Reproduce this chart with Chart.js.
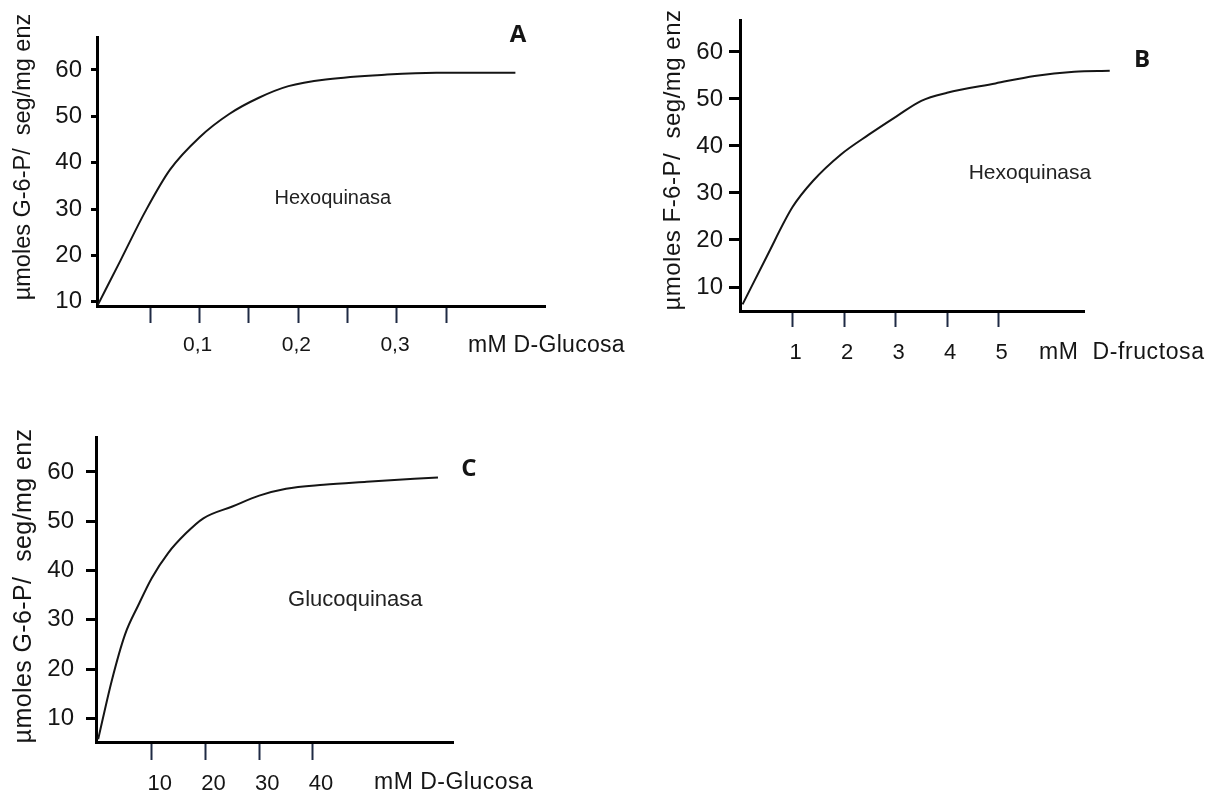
<!DOCTYPE html>
<html>
<head>
<meta charset="utf-8">
<script src="https://cdn.jsdelivr.net/npm/chart.js@4/dist/chart.umd.min.js"></script>
<style>
  html, body { margin: 0; padding: 0; background: #fff; }
  body { width: 1219px; height: 796px; position: relative; overflow: hidden; }
  .panel { position: absolute; }
  #panelA { left: 0; top: 0; width: 640px; height: 380px; }
  #panelB { left: 600px; top: 0; width: 619px; height: 380px; }
  #panelC { left: 0; top: 400px; width: 620px; height: 396px; }
</style>
</head>
<body>
<div class="panel" id="panelA"><canvas id="chartA"></canvas></div>
<div class="panel" id="panelB"><canvas id="chartB"></canvas></div>
<div class="panel" id="panelC"><canvas id="chartC"></canvas></div>

<script>
// --- data ---

// A: hexoquinasa, D-glucosa (mM)
const glucoseA = [-0.003, 0.02, 0.045, 0.07, 0.1, 0.13, 0.16, 0.19, 0.23, 0.29, 0.34, 0.42]
const rateA    = [9.4, 19.0, 29.5, 38.5, 45.5, 50.5, 54.0, 56.5, 58.0, 59.0, 59.4, 59.4]
const xTicksA  = [0.05, 0.1, 0.15, 0.2, 0.25, 0.3, 0.35]
const xLabelsA = ['', '0,1', '', '0,2', '', '0,3', '']

// B: hexoquinasa, D-fructosa (mM)
const fructoseB = [0.03, 0.5, 1.0, 1.4, 1.94, 2.48, 3.02, 3.5, 4.0, 4.94, 5.7, 6.47, 7.16]
const rateB     = [6.3, 16.5, 27.0, 32.6, 38.2, 42.4, 46.3, 49.6, 51.3, 53.3, 54.9, 55.8, 56.0]
const xTicksB   = [1, 2, 3, 4, 5]
const xLabelsB  = ['1', '2', '3', '4', '5']

// C: glucoquinasa, D-glucosa (mM)
const glucoseC = [0, 2.5, 5.0, 7.5, 10, 13, 16.3, 19.6, 25, 30, 35, 42, 50, 63.3]
const rateC    = [5.75, 17.5, 27.0, 33.0, 38.5, 43.5, 47.5, 50.6, 53.0, 55.2, 56.6, 57.4, 58.0, 58.9]
const xTicksC  = [10, 20, 30, 40]
const xLabelsC = ['10', '20', '30', '40']

const yTicks = [10, 20, 30, 40, 50, 60]

const SANS = '"Liberation Sans", Arial, sans-serif'
Chart.defaults.font.family = SANS
Chart.defaults.color = '#151515'

// free text: axis titles, units, panel letters, enzyme names
const panelText = {
  id: 'panelText',
  afterDraw(chart, args, opts) {
    const ctx = chart.ctx
    const { x, y } = chart.scales
    for (const it of (opts.items || [])) {
      ctx.save()
      ctx.font = it.font
      ctx.fillStyle = it.color || '#151515'
      ctx.letterSpacing = (it.spacing || 0) + 'px'
      ctx.textAlign = it.align || 'center'
      ctx.textBaseline = 'middle'
      const px = it.xv !== undefined ? x.getPixelForValue(it.xv) : it.px
      const py = it.yv !== undefined ? y.getPixelForValue(it.yv) : it.py
      ctx.translate(px, py)
      if (it.rotate) ctx.rotate(it.rotate)
      ctx.fillText(it.text, 0, 0)
      ctx.restore()
    }
  }
}

function makeChart(id, cfg) {
  const points = cfg.xs.map((v, i) => ({ x: v, y: cfg.ys[i] }))
  return new Chart(document.getElementById(id), {
    type: 'line',
    data: {
      datasets: [{
        data: points,
        borderColor: '#151515',
        borderWidth: 2,
        pointRadius: 0,
        cubicInterpolationMode: 'monotone',
        clip: false
      }]
    },
    options: {
      responsive: true,
      maintainAspectRatio: false,
      animation: false,
      layout: { padding: { left: 0, top: cfg.padTop, right: cfg.padRight, bottom: 0 } },
      plugins: {
        legend: { display: false },
        tooltip: { enabled: false },
        panelText: { items: cfg.texts }
      },
      scales: {
        x: {
          type: 'linear',
          min: cfg.xMin,
          max: cfg.xMax,
          afterFit: s => { s.height = cfg.xAxisHeight },
          afterBuildTicks: s => { s.ticks = cfg.xTicks.map(v => ({ value: v })) },
          border: { display: true, width: 3, color: '#000' },
          grid: {
            display: true, drawOnChartArea: false, drawTicks: true,
            tickLength: cfg.xTickLen, tickWidth: 2, tickColor: '#1f2a44'
          },
          ticks: {
            autoSkip: false, maxRotation: 0,
            padding: cfg.xTickPad,
            labelOffset: cfg.xLabelOffset,
            font: { size: cfg.xFont },
            callback: (v, i) => cfg.xLabels[i]
          }
        },
        y: {
          type: 'linear',
          min: cfg.yMin,
          max: cfg.yMax,
          afterFit: s => { s.width = cfg.yAxisWidth },
          afterBuildTicks: s => { s.ticks = yTicks.map(v => ({ value: v })) },
          border: { display: true, width: 3, color: '#000' },
          grid: {
            display: true, drawOnChartArea: false, drawTicks: true,
            tickLength: cfg.yTickLen, tickWidth: 3, tickColor: '#000'
          },
          ticks: { padding: cfg.yTickPad, font: { size: 24 } }
        }
      }
    },
    plugins: [panelText]
  })
}

makeChart('chartA', {
  xs: glucoseA, ys: rateA, xTicks: xTicksA, xLabels: xLabelsA,
  xMin: -0.004, xMax: 0.45, yMin: 9.1, yMax: 67.1,
  padTop: 37, padRight: 95, yAxisWidth: 97, xAxisHeight: 74,
  xTickLen: 17, xTickPad: 10, xLabelOffset: -2, xFont: 21,
  yTickLen: 6, yTickPad: 9,
  texts: [
    { text: 'µmoles G-6-P/  seg/mg enz', px: 24, py: 157, rotate: -Math.PI / 2, font: '23.5px ' + SANS },
    { text: 'mM D-Glucosa', px: 468, py: 346, align: 'left', font: '23px ' + SANS, spacing: 0.3 },
    { text: 'A', px: 518, py: 35, font: 'bold 24px "Open Sans", sans-serif' },
    { text: 'Hexoquinasa', xv: 0.235, yv: 32.2, font: '20px ' + SANS, color: '#222' }
  ]
})

makeChart('chartB', {
  xs: fructoseB, ys: rateB, xTicks: xTicksB, xLabels: xLabelsB,
  xMin: -0.02, xMax: 6.66, yMin: 4.9, yMax: 66.7,
  padTop: 18, padRight: 135, yAxisWidth: 140, xAxisHeight: 69,
  xTickLen: 16, xTickPad: 13, xLabelOffset: 3, xFont: 22,
  yTickLen: 11, yTickPad: 6,
  texts: [
    { text: 'µmoles F-6-P/  seg/mg enz', px: 73, py: 160, rotate: -Math.PI / 2, font: '24px ' + SANS, spacing: 0.5 },
    { text: 'mM  D-fructosa', px: 439, py: 353, align: 'left', font: '23px ' + SANS, spacing: 0.6 },
    { text: 'B', px: 542, py: 60, font: 'bold 24px "Open Sans", sans-serif' },
    { text: 'Hexoquinasa', xv: 5.61, yv: 34.2, font: '21px ' + SANS, color: '#222' }
  ]
})

makeChart('chartC', {
  xs: glucoseC, ys: rateC, xTicks: xTicksC, xLabels: xLabelsC,
  xMin: -0.4, xMax: 66.1, yMin: 5.2, yMax: 67.1,
  padTop: 37, padRight: 167, yAxisWidth: 96, xAxisHeight: 54,
  xTickLen: 18, xTickPad: 11, xLabelOffset: 8, xFont: 22,
  yTickLen: 10, yTickPad: 12,
  texts: [
    { text: 'µmoles G-6-P/  seg/mg enz', px: 24, py: 186, rotate: -Math.PI / 2, font: '25px ' + SANS, spacing: 0.4 },
    { text: 'mM D-Glucosa', px: 374, py: 383, align: 'left', font: '23px ' + SANS, spacing: 0.5 },
    { text: 'C', px: 469, py: 69, font: 'bold 24px "Open Sans", sans-serif' },
    { text: 'Glucoquinasa', xv: 47.9, yv: 34.0, font: '22px ' + SANS, color: '#222' }
  ]
})
</script>
</body>
</html>
